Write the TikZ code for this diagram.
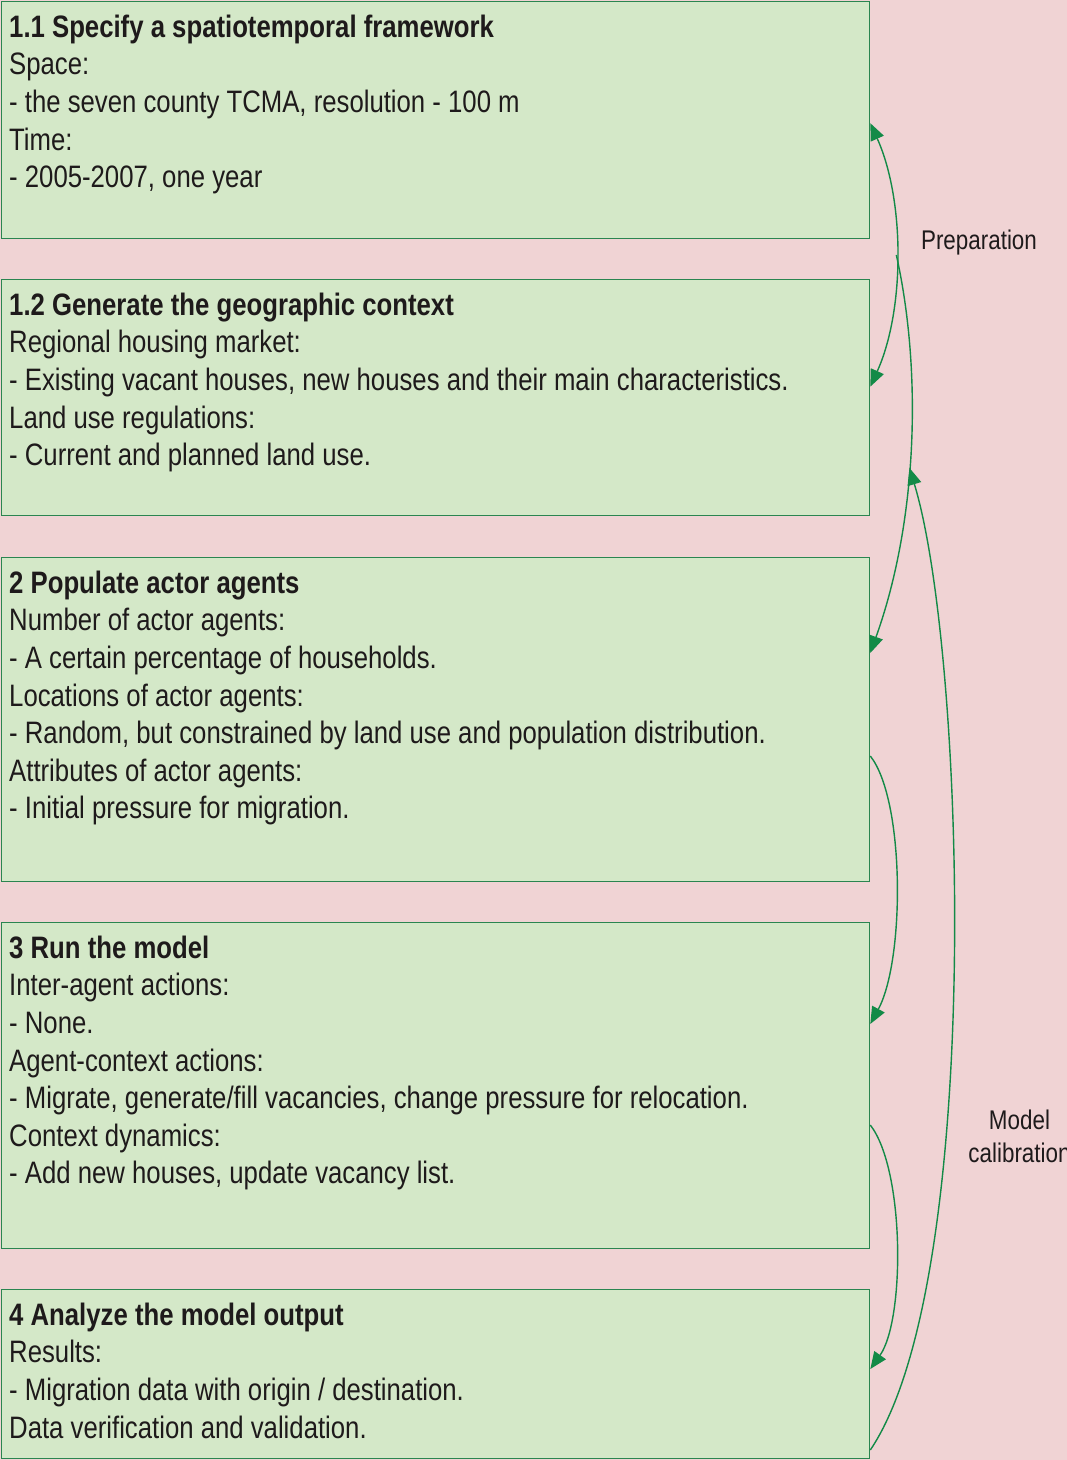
\documentclass[tikz,border=0pt]{standalone}
\usepackage{fontspec}
\setmainfont[FakeStretch=0.83]{Liberation Sans}
\usetikzlibrary{arrows.meta}
\definecolor{bgpink}{HTML}{F0D3D4}
\definecolor{boxgreen}{HTML}{D4E8C8}
\definecolor{linegreen}{HTML}{2A8550}
\definecolor{arrowgreen}{HTML}{138A47}
\definecolor{txt}{HTML}{1E1A1B}
\begin{document}
\begin{tikzpicture}[x=1pt,y=-1pt,
  stagebox/.style={draw=linegreen, fill=boxgreen, line width=1.3pt, anchor=north west, inner sep=0pt, minimum width=868pt},
  stagetext/.style={anchor=north west, inner sep=0pt, align=left, text=txt, font={\fontsize{31}{37.6}\selectfont}},
  sidelabel/.style={inner sep=0pt, align=center, text=txt, font={\fontsize{27}{33}\selectfont}},
  flow/.style={draw=arrowgreen, line width=1.4pt, -{Triangle[length=17pt,width=14pt]}},
  flowboth/.style={draw=arrowgreen, line width=1.4pt, {Triangle[length=17pt,width=14pt]}-{Triangle[length=17pt,width=14pt]}}
]
\fill[bgpink] (0,0) rectangle (1067,1460);
\useasboundingbox (0,0) rectangle (1067,1460);

% boxes
\node[stagebox, minimum height=237pt] (b1) at (1,1) {};
\node[stagebox, minimum height=236pt] (b2) at (1,279) {};
\node[stagebox, minimum height=324pt] (b3) at (1,557) {};
\node[stagebox, minimum height=326pt] (b4) at (1,922) {};
\node[stagebox, minimum height=169pt] (b5) at (1,1289) {};

% texts
\node[stagetext] (t1) at (9,13) {\rule{0pt}{24pt}\textbf{1.1 Specify a spatiotemporal framework}\\Space:\\- the seven county TCMA, resolution - 100 m\\Time:\\- 2005-2007, one year};
\node[stagetext] (t2) at (9,291) {\rule{0pt}{24pt}\textbf{1.2 Generate the geographic context}\\Regional housing market:\\- Existing vacant houses, new houses and their main characteristics.\\Land use regulations:\\- Current and planned land use.};
\node[stagetext] (t3) at (9,569) {\rule{0pt}{24pt}\textbf{2 Populate actor agents}\\Number of actor agents:\\- A certain percentage of households.\\Locations of actor agents:\\- Random, but constrained by land use and population distribution.\\Attributes of actor agents:\\- Initial pressure for migration.};
\node[stagetext] (t4) at (9,934) {\rule{0pt}{24pt}\textbf{3 Run the model}\\Inter-agent actions:\\- None.\\Agent-context actions:\\- Migrate, generate/fill vacancies, change pressure for relocation.\\Context dynamics:\\- Add new houses, update vacancy list.};
\node[stagetext] (t5) at (9,1301) {\rule{0pt}{24pt}\textbf{4 Analyze the model output}\\Results:\\- Migration data with origin / destination.\\Data verification and validation.};

% side labels
\node[sidelabel] (prep) at (979,243) {Preparation};
\node[sidelabel] (calib) at (1019.5,1136) {Model\\calibration};

% connectors
\draw[flowboth] ([yshift=-3pt]b1.east) .. controls (905,200) and (905,310) .. ([yshift=11pt]b2.east) coordinate[pos=0.5] (pmid);
\draw[flow] (pmid) .. controls (922,370) and (918,520) .. ([yshift=-96pt]b3.north east) coordinate[pos=0.55] (pjoin);
\draw[flow] ([yshift=-199pt]b3.north east) .. controls (905,800) and (905,960) .. ([yshift=-102pt]b4.north east);
\draw[flow] ([yshift=-203pt]b4.north east) .. controls (905,1170) and (905,1320) .. ([yshift=-80pt]b5.north east);
\draw[flow] ([yshift=-161pt]b5.north east) .. controls (985,1280) and (965,650) .. (pjoin);
\end{tikzpicture}
\end{document}
